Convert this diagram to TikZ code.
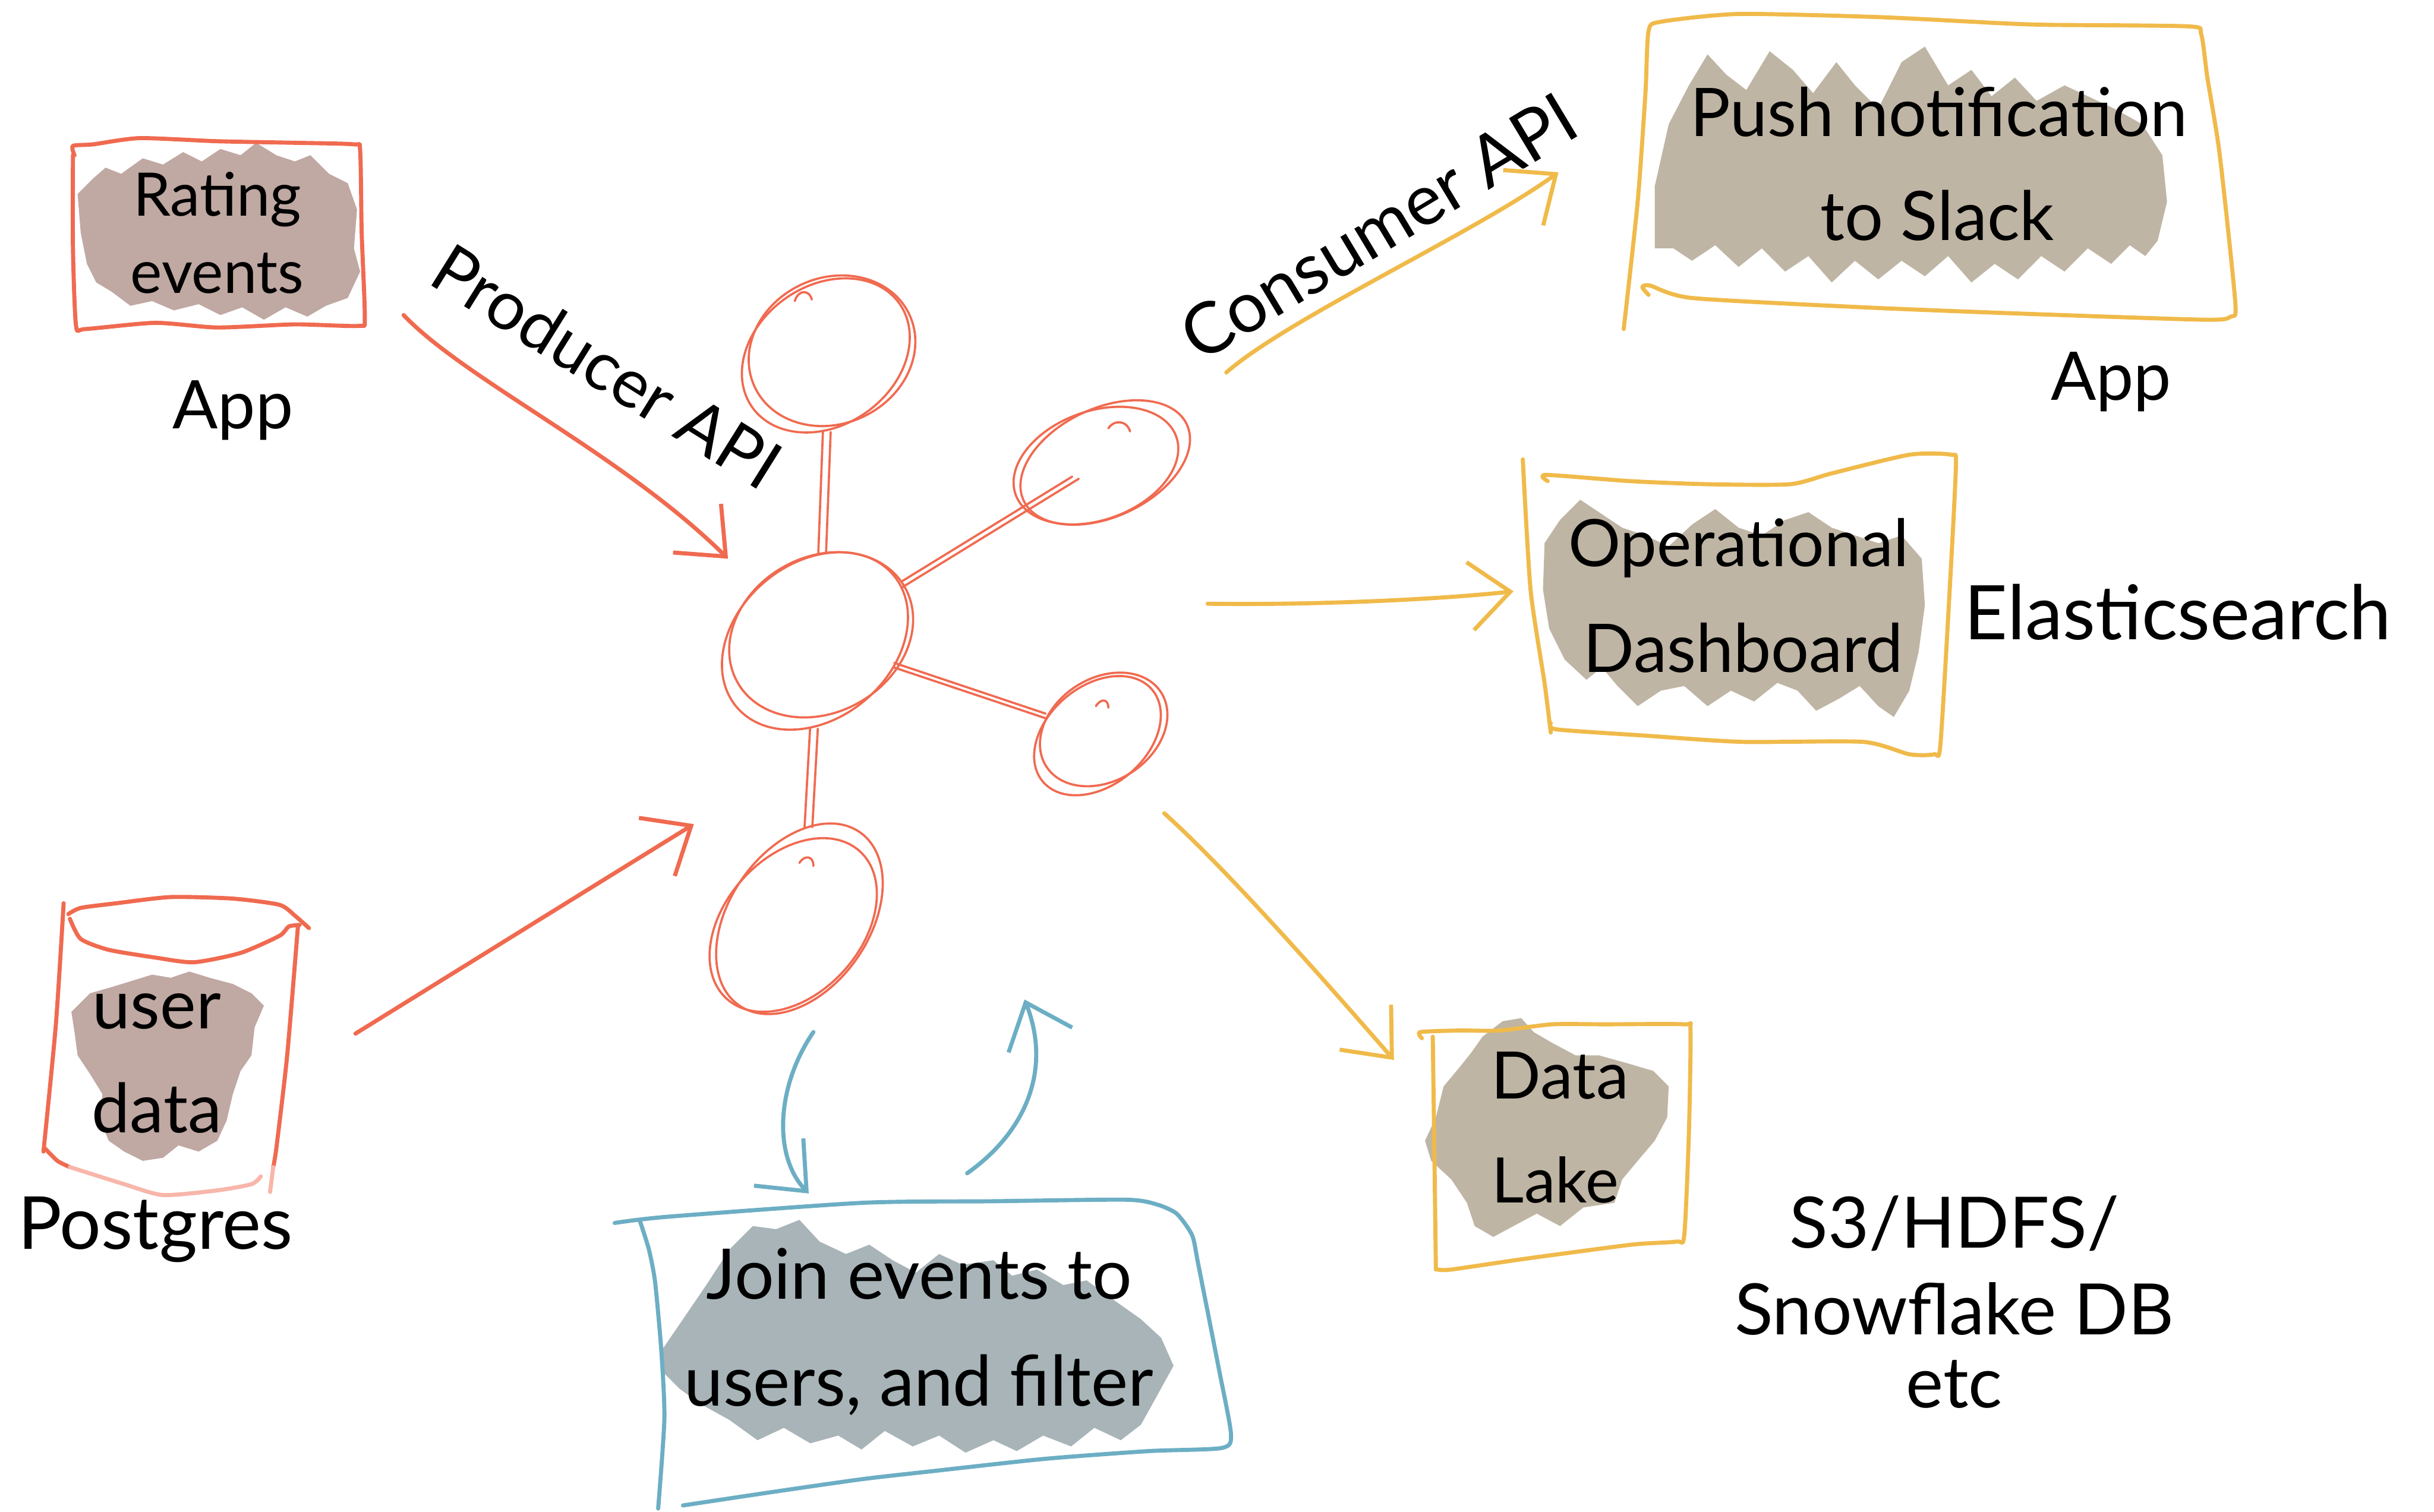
\documentclass[tikz,border=0pt]{standalone}
\usepackage{fontspec}
\setmainfont{Lato}
\usetikzlibrary{arrows.meta,shapes.geometric}

\definecolor{kred}{RGB}{240,106,80}
\definecolor{kpink}{RGB}{248,182,170}
\definecolor{kyel}{RGB}{240,186,74}
\definecolor{kblue}{RGB}{108,174,196}
\definecolor{fillrose}{RGB}{192,168,163}
\definecolor{fillsand}{RGB}{191,181,164}
\definecolor{fillslate}{RGB}{168,180,184}

\newcommand{\fsz}[1]{\fontsize{#1}{#1}\selectfont}

\begin{document}
\begin{tikzpicture}[x=0.1mm, y=-0.1mm,
  pen/.style={line width=0.75pt, line cap=round, line join=round},
  redpen/.style={pen, draw=kred},
  yelpen/.style={pen, draw=kyel},
  bluepen/.style={pen, draw=kblue},
  kring/.style={draw=kred, line width=0.4pt, shape=ellipse, inner sep=0pt},
  kline/.style={draw=kred, line width=0.4pt, line cap=round},
  crayon/.style={line join=bevel},
  barb/.style={-{Straight Barb[length=2.6mm, width=4.4mm]}},
  lbl/.style={inner sep=0pt, text=black},
  edge/.style={smooth, tension=0.4}]

\useasboundingbox (0,0) rectangle (1568,974);

% ---------- crayon fills behind the labels ----------
\fill[crayon, fillrose] (50,125) -- (60,115) -- (68,108) -- (78,112) -- (92,102) -- (105,106) -- (118,98) -- (130,104) -- (142,96) -- (155,100) -- (165,92) -- (178,100) -- (190,104) -- (200,100) -- (212,112) -- (224,118) -- (230,135) -- (228,160) -- (232,175) -- (224,192) -- (210,197) -- (198,204) -- (184,198) -- (170,206) -- (156,198) -- (142,203) -- (128,196) -- (112,200) -- (98,194) -- (84,197) -- (72,188) -- (62,182) -- (56,170) -- (52,150) -- cycle;
\fill[crayon, fillrose] (46,652) -- (58,640) -- (72,636) -- (85,632) -- (98,628) -- (110,630) -- (122,626) -- (135,630) -- (150,634) -- (162,640) -- (170,648) -- (164,662) -- (162,680) -- (155,690) -- (150,705) -- (146,722) -- (140,735) -- (128,742) -- (115,738) -- (105,746) -- (92,748) -- (80,742) -- (70,735) -- (64,720) -- (66,705) -- (58,692) -- (50,680) -- (48,665) -- cycle;
\fill[crayon, fillsand] (1066,120) -- (1075,80) -- (1088,55) -- (1100,35) -- (1112,48) -- (1125,58) -- (1140,33) -- (1155,45) -- (1168,60) -- (1183,40) -- (1195,55) -- (1210,70) -- (1225,40) -- (1240,30) -- (1255,55) -- (1270,45) -- (1283,62) -- (1298,50) -- (1312,65) -- (1330,55) -- (1345,62) -- (1362,70) -- (1380,80) -- (1393,100) -- (1396,130) -- (1390,155) -- (1382,165) -- (1372,158) -- (1360,170) -- (1345,160) -- (1330,175) -- (1315,165) -- (1300,180) -- (1285,170) -- (1270,182) -- (1255,165) -- (1240,178) -- (1225,168) -- (1210,180) -- (1195,168) -- (1180,182) -- (1165,165) -- (1150,175) -- (1135,160) -- (1120,172) -- (1105,158) -- (1090,168) -- (1078,160) -- (1066,160) -- cycle;
\fill[crayon, fillsand] (995,350) -- (1005,335) -- (1018,322) -- (1030,330) -- (1045,340) -- (1060,345) -- (1075,352) -- (1090,338) -- (1105,328) -- (1120,340) -- (1135,345) -- (1150,335) -- (1165,330) -- (1180,340) -- (1195,345) -- (1210,350) -- (1225,345) -- (1238,360) -- (1240,390) -- (1236,420) -- (1230,445) -- (1220,462) -- (1210,455) -- (1198,442) -- (1185,450) -- (1170,458) -- (1158,445) -- (1145,440) -- (1130,452) -- (1115,445) -- (1100,455) -- (1085,442) -- (1070,445) -- (1055,455) -- (1042,442) -- (1032,430) -- (1022,438) -- (1008,425) -- (998,405) -- (994,380) -- cycle;
\fill[crayon, fillsand] (955,668) -- (968,658) -- (980,656) -- (988,665) -- (1000,672) -- (1015,680) -- (1030,680) -- (1048,685) -- (1065,690) -- (1075,700) -- (1074,720) -- (1066,735) -- (1055,748) -- (1045,760) -- (1040,775) -- (1020,778) -- (1005,790) -- (990,782) -- (975,790) -- (962,797) -- (950,790) -- (945,775) -- (935,760) -- (922,748) -- (918,735) -- (925,720) -- (930,700) -- (940,688) -- (948,678) -- cycle;
\fill[crayon, fillslate] (425,872) -- (440,850) -- (455,828) -- (470,805) -- (485,790) -- (500,792) -- (515,786) -- (528,800) -- (545,808) -- (560,802) -- (575,812) -- (590,820) -- (605,808) -- (620,815) -- (640,812) -- (652,822) -- (668,818) -- (685,828) -- (700,825) -- (718,838) -- (735,850) -- (748,862) -- (756,880) -- (745,900) -- (735,918) -- (722,928) -- (705,920) -- (690,932) -- (672,925) -- (655,935) -- (640,928) -- (622,936) -- (605,925) -- (588,932) -- (570,922) -- (555,934) -- (540,925) -- (522,930) -- (505,920) -- (488,928) -- (470,915) -- (452,905) -- (438,895) -- (428,885) -- cycle;

% ---------- source boxes ----------
% rating events
\draw[redpen] plot[edge] coordinates {(48,100) (47,94) (60,93) (90,89) (140,91) (190,92) (228,93) (232,97) (233,150) (235,205) (231,210) (190,209) (140,211) (100,208) (55,212) (49,210) (47,160) (47,100)};
% user data cylinder
\draw[redpen] plot[edge] coordinates {(41,582) (36,660) (28,742)};
\draw[redpen] plot[edge] coordinates {(44,589) (52,585) (75,582) (110,578) (150,579) (180,583) (190,590) (199,598)};
\draw[redpen] plot[edge] coordinates {(45,592) (52,605) (70,612) (100,617) (125,620) (155,614) (180,603) (186,597) (193,596)};
\draw[redpen] plot[edge] coordinates {(192,596) (185,680) (178,740) (176,752)};
\draw[redpen] plot[edge] coordinates {(29,740) (37,748) (45,752)};
\draw[pen, draw=kpink] plot[edge] coordinates {(45,752) (80,763) (105,770) (140,767) (162,763) (168,758)};
\draw[pen, draw=kpink] (176,752) -- (174,768);

% ---------- stream processor box ----------
\draw[bluepen] plot[edge] coordinates {(396,788) (430,784) (556,775) (640,774) (725,773) (745,776) (758,782) (768,796) (772,815) (785,881) (793,924) (787,933) (740,935) (673,940) (600,948) (556,953) (500,961) (440,970)};
\draw[bluepen] plot[edge] coordinates {(412,786) (418,805) (422,826) (426,870) (428,914) (424,972)};

% ---------- sink boxes ----------
\draw[yelpen] plot[edge] coordinates {(1062,190) (1058,185) (1063,184) (1090,192) (1200,198) (1300,202) (1420,206) (1437,204) (1440,195) (1430,100) (1422,50) (1418,22) (1410,17) (1320,16) (1290,15) (1210,11) (1120,9) (1070,14) (1062,20) (1060,60) (1055,130) (1046,212)};
\draw[yelpen] plot[edge] coordinates {(997,310) (996,306) (1050,310) (1100,312) (1153,312) (1180,305) (1230,293) (1257,293) (1260,300) (1256,380) (1250,480) (1246,486) (1230,486) (1200,478) (1122,478) (1060,474) (1003,470) (999,466)};
\draw[yelpen] plot[edge] coordinates {(981,296) (986,380) (995,440) (999,472)};
\draw[yelpen] plot[edge] coordinates {(916,669) (915,665) (940,664) (966,664) (1000,660) (1034,660) (1085,660) (1089,664) (1088,730) (1085,796) (1080,800) (1051,802) (983,811) (935,818) (926,818)};
\draw[yelpen] plot[edge] coordinates {(923,668) (924,740) (925,818)};

% ---------- broker cluster ----------
\node[kring, minimum width=11.6mm, minimum height=9mm, rotate=35] (ktop) at (532,229) {};
\node[kring, minimum width=13.2mm, minimum height=10mm, rotate=40] (kmid) at (525,413) {};
\node[kring, minimum width=11.6mm, minimum height=7mm, rotate=25] (kru) at (712,298) {};
\node[kring, minimum width=9.2mm, minimum height=6.4mm, rotate=40] (krl) at (707,474) {};
\node[kring, minimum width=13.6mm, minimum height=9mm, rotate=55] (kbot) at (515,592) {};

% second pass of each ring
\draw[kline, rotate around={25:(536,226)}] (536,226) ellipse [x radius=55, y radius=47];
\draw[kline, rotate around={30:(529,409)}] (529,409) ellipse [x radius=62, y radius=50];
\draw[kline, rotate around={20:(706,300)}] (706,300) ellipse [x radius=55, y radius=35];
\draw[kline, rotate around={33:(711,470)}] (711,470) ellipse [x radius=44, y radius=33];
\draw[kline, rotate around={48:(511,596)}] (511,596) ellipse [x radius=64, y radius=44];

% pen hooks left inside the rings
\draw[kline] (512,194) .. controls (514,187) and (521,186) .. (523,193);
\draw[kline] (714,276) .. controls (718,270) and (726,271) .. (728,278);
\draw[kline] (706,455) .. controls (709,450) and (714,450) .. (714,456);
\draw[kline] (515,556) .. controls (518,551) and (524,551) .. (524,558);

% links between brokers
\draw[kline] (ktop) -- (kmid);
\draw[kline, transform canvas={xshift=0.5mm}] (ktop) -- (kmid);
\draw[kline] (kmid) -- (kbot);
\draw[kline, transform canvas={xshift=0.5mm}] (kmid) -- (kbot);
\draw[kline, shorten >=2mm] (kmid) -- (kru.center);
\draw[kline, shorten >=2.5mm, transform canvas={yshift=0.4mm}] (kmid) -- (kru.center);
\draw[kline] (kmid) -- (krl);
\draw[kline, transform canvas={yshift=0.3mm}] (kmid) -- (krl);

% ---------- connector end points ----------
\coordinate (ratingOut) at (260,203);
\coordinate (prodIn) at (469,360);
\coordinate (userOut) at (229,666);
\coordinate (userIn) at (447,531);
\coordinate (consOut) at (790,240);
\coordinate (consIn) at (1004,111);
\coordinate (opOut) at (778,389);
\coordinate (opIn) at (975,381);
\coordinate (lakeOut) at (750,524);
\coordinate (lakeIn) at (898,683);
\coordinate (joinIn) at (521,769);
\coordinate (joinInTail) at (524,665);
\coordinate (joinOut) at (623,756);
\coordinate (joinOutTip) at (660,644);

% ---------- connectors ----------
\draw[redpen, barb] (ratingOut) .. controls (300,245) and (400,292) .. (prodIn);
\draw[redpen, barb] (userOut) .. controls (300,622) and (400,560) .. (userIn);
\draw[yelpen, barb] (consOut) .. controls (830,205) and (950,150) .. (consIn);
\draw[yelpen, barb] (opOut) .. controls (850,390) and (930,386) .. (opIn);
\draw[yelpen, barb] (lakeOut) .. controls (790,560) and (850,628) .. (lakeIn);
\draw[bluepen, barb] (joinInTail) .. controls (500,700) and (498,745) .. (joinIn);
\draw[bluepen, barb] (joinOut) .. controls (660,730) and (678,690) .. (joinOutTip);

% ---------- labels ----------
\node[lbl, anchor=base, font=\fsz{11pt}] (tRating) at (140,139) {Rating};
\node[lbl, anchor=base, font=\fsz{11pt}] (tEvents) at (140,189) {events};
\node[lbl, anchor=base, font=\fsz{12.3pt}] (tAppL) at (150,276) {App};
\node[lbl, rotate=-32, font=\fsz{12.5pt}] (tProd) at (391,236) {Producer API};
\node[lbl, anchor=base, font=\fsz{12.5pt}] (tUser) at (101,663) {user};
\node[lbl, anchor=base, font=\fsz{12.5pt}] (tData) at (101,730) {data};
\node[lbl, anchor=base, font=\fsz{13.4pt}] (tPg) at (100,805) {Postgres};
\node[lbl, anchor=base, font=\fsz{12.8pt}] (tJoin1) at (592,837) {Join events to};
\node[lbl, anchor=base, font=\fsz{12.8pt}] (tJoin2) at (592,906) {users, and filter};
\node[lbl, rotate=31, font=\fsz{13pt}] (tCons) at (888,146) {Consumer API};
\node[lbl, anchor=base, font=\fsz{12.3pt}] (tPush1) at (1249,88) {Push notification};
\node[lbl, anchor=base, font=\fsz{12.5pt}] (tPush2) at (1248,155) {to Slack};
\node[lbl, anchor=base, font=\fsz{12.3pt}] (tAppR) at (1360,258) {App};
\node[lbl, anchor=base, font=\fsz{12pt}] (tOp1) at (1120,365) {Operational};
\node[lbl, anchor=base, font=\fsz{12.3pt}] (tOp2) at (1123,433) {Dashboard};
\node[lbl, anchor=base, font=\fsz{13.8pt}] (tEs) at (1403,412) {Elasticsearch};
\node[lbl, anchor=base, font=\fsz{12pt}] (tLake1) at (1005,708) {Data};
\node[lbl, anchor=base, font=\fsz{11.5pt}] (tLake2) at (1002,775) {Lake};
\node[lbl, anchor=base, font=\fsz{13pt}] (tS3) at (1259,804) {S3/HDFS/};
\node[lbl, anchor=base, font=\fsz{13pt}] (tSnow) at (1259,860) {Snowflake DB};
\node[lbl, anchor=base, font=\fsz{13pt}] (tEtc) at (1259,907) {etc};
\end{tikzpicture}
\end{document}
